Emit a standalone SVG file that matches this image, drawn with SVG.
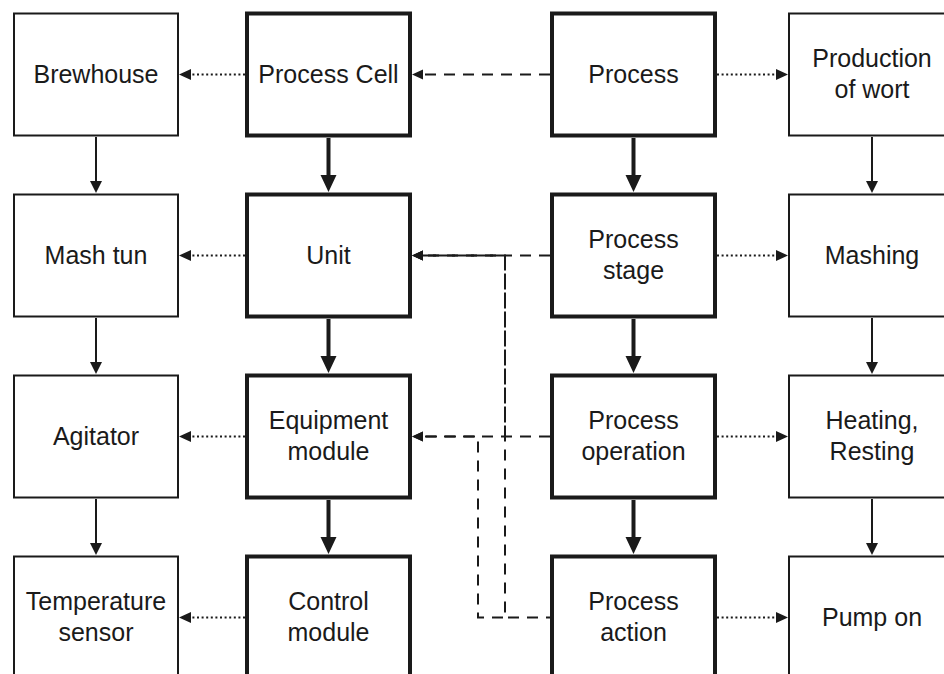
<svg xmlns="http://www.w3.org/2000/svg" width="944" height="674" viewBox="0 0 944 674">
  <style>
    .box { fill: #ffffff; stroke: #1a1a1a; stroke-width: 2; }
    .box.thick { stroke-width: 4; }
    .label { font-family: "Liberation Sans", Arial, Helvetica, sans-serif; font-size: 25px; fill: #1a1a1a; text-anchor: middle; }
    .solid { fill: none; stroke: #1a1a1a; stroke-width: 2; }
    .solid.thick { stroke-width: 4; }
    .dotted { fill: none; stroke: #1a1a1a; stroke-width: 2.2; stroke-dasharray: 2 2.6; }
    .dashed { fill: none; stroke: #1a1a1a; stroke-width: 2; stroke-dasharray: 11 8; }
  </style>
  <defs>
    <marker id="arrowThin" markerUnits="userSpaceOnUse" viewBox="0 -10 20 20" markerWidth="20" markerHeight="20" refX="0" refY="0" orient="auto" overflow="visible">
      <path d="M0,-6 L12,0 L0,6 Z" fill="#1a1a1a"/>
    </marker>
    <marker id="arrowThick" markerUnits="userSpaceOnUse" viewBox="0 -10 20 20" markerWidth="20" markerHeight="20" refX="0" refY="0" orient="auto" overflow="visible">
      <path d="M0,-8 L17,0 L0,8 Z" fill="#1a1a1a"/>
    </marker>
    <marker id="arrowDot" markerUnits="userSpaceOnUse" viewBox="0 -10 20 20" markerWidth="20" markerHeight="20" refX="0" refY="0" orient="auto" overflow="visible">
      <path d="M0,-5.5 L12,0 L0,5.5 Z" fill="#1a1a1a"/>
    </marker>
    <marker id="arrowDash" markerUnits="userSpaceOnUse" viewBox="0 -10 20 20" markerWidth="20" markerHeight="20" refX="0" refY="0" orient="auto" overflow="visible">
      <path d="M0,-5 L11,0 L0,5 Z" fill="#1a1a1a"/>
    </marker>
  </defs>

  <rect width="944" height="674" fill="#ffffff"/>

  <!-- Connectors -->
  <g id="connectors">
    <!-- physical example chain (left), thin -->
    <path class="solid" d="M96,137 V181" marker-end="url(#arrowThin)"/>
    <path class="solid" d="M96,318 V362" marker-end="url(#arrowThin)"/>
    <path class="solid" d="M96,499 V543" marker-end="url(#arrowThin)"/>
    <!-- physical model, thick -->
    <path class="solid thick" d="M328.5,138 V175" marker-end="url(#arrowThick)"/>
    <path class="solid thick" d="M328.5,319 V356" marker-end="url(#arrowThick)"/>
    <path class="solid thick" d="M328.5,500 V537" marker-end="url(#arrowThick)"/>
    <!-- procedural model, thick -->
    <path class="solid thick" d="M633.5,138 V175" marker-end="url(#arrowThick)"/>
    <path class="solid thick" d="M633.5,319 V356" marker-end="url(#arrowThick)"/>
    <path class="solid thick" d="M633.5,500 V537" marker-end="url(#arrowThick)"/>
    <!-- procedure example chain (right), thin -->
    <path class="solid" d="M872,137 V181" marker-end="url(#arrowThin)"/>
    <path class="solid" d="M872,318 V362" marker-end="url(#arrowThin)"/>
    <path class="solid" d="M872,499 V543" marker-end="url(#arrowThin)"/>

    <!-- instance links, dotted -->
    <path class="dotted" d="M245,74.5 H191" marker-end="url(#arrowDot)"/>
    <path class="dotted" d="M245,255.5 H191" marker-end="url(#arrowDot)"/>
    <path class="dotted" d="M245,436.5 H191" marker-end="url(#arrowDot)"/>
    <path class="dotted" d="M245,617.5 H191" marker-end="url(#arrowDot)"/>
    <path class="dotted" d="M717,74.5 H776" marker-end="url(#arrowDot)"/>
    <path class="dotted" d="M717,255.5 H776" marker-end="url(#arrowDot)"/>
    <path class="dotted" d="M717,436.5 H776" marker-end="url(#arrowDot)"/>
    <path class="dotted" d="M717,617.5 H776" marker-end="url(#arrowDot)"/>

    <!-- procedural to physical mapping, dashed; branches join the trunks at x=505 / x=478 -->
    <path class="dashed" d="M550,74.5 H423" marker-end="url(#arrowDash)"/>
    <path class="dashed" d="M550,255.5 H423" marker-end="url(#arrowDash)"/>
    <path class="dashed" d="M550,436.5 H423" marker-end="url(#arrowDash)"/>
    <path class="dashed" style="stroke-dashoffset: 7" d="M550,617.5 H505 V255.5 H423" marker-end="url(#arrowDash)"/>
    <path class="dashed" d="M505,436.5 V255.5 H423" marker-end="url(#arrowDash)"/>
    <path class="dashed" style="stroke-dashoffset: 17" d="M505,617.5 H478 V436.5 H423" marker-end="url(#arrowDash)"/>
  </g>

  <!-- Column 1: physical example -->
  <g id="brewhouse">
    <rect class="box" x="14" y="13.5" width="164" height="122"/>
    <text class="label" x="96" y="82.5">Brewhouse</text>
  </g>
  <g id="mash-tun">
    <rect class="box" x="14" y="194.5" width="164" height="122"/>
    <text class="label" x="96" y="263.5">Mash tun</text>
  </g>
  <g id="agitator">
    <rect class="box" x="14" y="375.5" width="164" height="122"/>
    <text class="label" x="96" y="444.5">Agitator</text>
  </g>
  <g id="temperature-sensor">
    <rect class="box" x="14" y="556.5" width="164" height="122"/>
    <text class="label" x="96" y="610">Temperature</text>
    <text class="label" x="96" y="640.5">sensor</text>
  </g>

  <!-- Column 2: physical model -->
  <g id="process-cell">
    <rect class="box thick" x="247" y="13.5" width="163" height="122"/>
    <text class="label" x="328.5" y="82.5">Process Cell</text>
  </g>
  <g id="unit">
    <rect class="box thick" x="247" y="194.5" width="163" height="122"/>
    <text class="label" x="328.5" y="263.5">Unit</text>
  </g>
  <g id="equipment-module">
    <rect class="box thick" x="247" y="375.5" width="163" height="122"/>
    <text class="label" x="328.5" y="429">Equipment</text>
    <text class="label" x="328.5" y="459.5">module</text>
  </g>
  <g id="control-module">
    <rect class="box thick" x="247" y="556.5" width="163" height="122"/>
    <text class="label" x="328.5" y="610">Control</text>
    <text class="label" x="328.5" y="640.5">module</text>
  </g>

  <!-- Column 3: procedural model -->
  <g id="process">
    <rect class="box thick" x="552" y="13.5" width="163" height="122"/>
    <text class="label" x="633.5" y="82.5">Process</text>
  </g>
  <g id="process-stage">
    <rect class="box thick" x="552" y="194.5" width="163" height="122"/>
    <text class="label" x="633.5" y="248">Process</text>
    <text class="label" x="633.5" y="278.5">stage</text>
  </g>
  <g id="process-operation">
    <rect class="box thick" x="552" y="375.5" width="163" height="122"/>
    <text class="label" x="633.5" y="429">Process</text>
    <text class="label" x="633.5" y="459.5">operation</text>
  </g>
  <g id="process-action">
    <rect class="box thick" x="552" y="556.5" width="163" height="122"/>
    <text class="label" x="633.5" y="610">Process</text>
    <text class="label" x="633.5" y="640.5">action</text>
  </g>

  <!-- Column 4: procedure example -->
  <g id="production-of-wort">
    <rect class="box" x="789" y="13.5" width="166" height="122"/>
    <text class="label" x="872" y="67">Production</text>
    <text class="label" x="872" y="97.5">of wort</text>
  </g>
  <g id="mashing">
    <rect class="box" x="789" y="194.5" width="166" height="122"/>
    <text class="label" x="872" y="263.5">Mashing</text>
  </g>
  <g id="heating-resting">
    <rect class="box" x="789" y="375.5" width="166" height="122"/>
    <text class="label" x="872" y="429">Heating,</text>
    <text class="label" x="872" y="459.5">Resting</text>
  </g>
  <g id="pump-on">
    <rect class="box" x="789" y="556.5" width="166" height="122"/>
    <text class="label" x="872" y="625.5">Pump on</text>
  </g>
</svg>
